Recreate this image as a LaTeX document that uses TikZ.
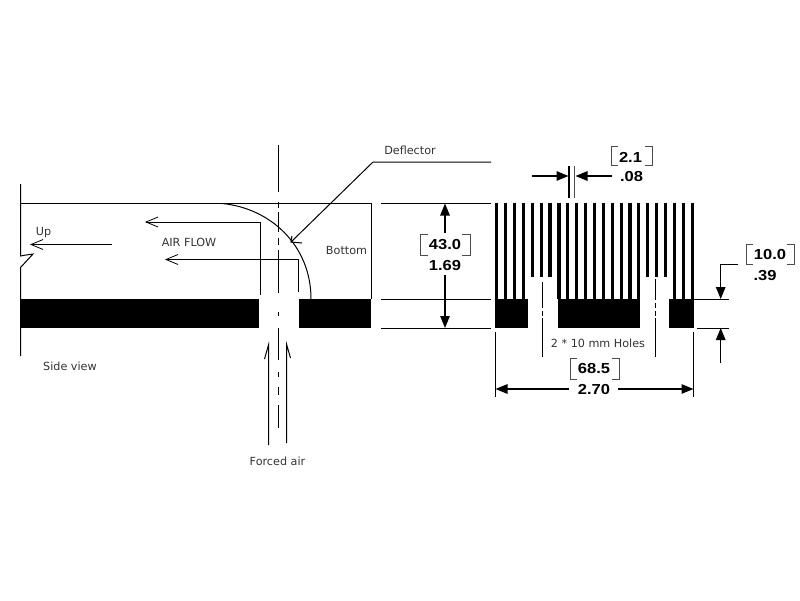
\documentclass[tikz,border=0pt]{standalone}
\usepackage{fontspec}
\setmainfont{DejaVu Sans}
\newfontfamily\dimfont[FakeStretch=1.14]{Liberation Sans}
\usetikzlibrary{arrows.meta}
\tikzset{
  x=1pt,y=-1pt,
  ln/.style={line width=1pt,black},
  openarrow/.style={ln,-{Straight Barb[length=12pt,width=10pt,line width=.8pt]}},
  dimarrow/.style={line width=1.3pt,black,-{Triangle[length=12pt,width=9.5pt]}},
  lbl/.style={inner sep=0pt,font=\fontsize{11.2}{13}\selectfont,text=black!80},
  dimlbl/.style={inner sep=0pt,font=\dimfont\bfseries\fontsize{14.5}{16}\selectfont},
  brk/.style={line width=1pt,black!70},
  finbar/.style={line width=3.2pt,black}
}
\begin{document}
\begin{tikzpicture}
\useasboundingbox (0,0) rectangle (800,600);
% side view frame
\coordinate (tl) at (20.5,203.5); \coordinate (tr) at (371,203.5);
\coordinate (br) at (371,299);
\draw[ln] (20.5,184) -- (20.5,256) -- (26,255) -- (33,254) -- (21,267) -- (20.5,267) -- (20.5,356);
\draw[ln] (tl) -- (tr) -- (br);
\fill[black] (20.5,299) rectangle (259,328);
\fill[black] (299,299) rectangle (371,328);
\draw[ln] (222,203.5) .. controls (270,208) and (311,245) .. (311,299);
% centre line
\foreach \a/\b in {145/192,202/208,212/232,238/245,250/293,312/316,328/360,372/377,387/395,405/428}
  \draw[ln] (278.5,\a) -- (278.5,\b);
% flow arrows
\draw[openarrow] (260,295) -- (260,222) -- (145,222);
\draw[openarrow] (298.5,292) -- (298.5,259.5) -- (165,259.5);
\draw[openarrow] (112,244.5) -- (30,244.5);
\draw[ln] (268.5,445) -- (268.5,345) -- (264.5,359);
\draw[ln] (286.5,443) -- (286.5,344) -- (290.5,358);
% deflector
\coordinate (df) at (373,162);
\coordinate (dftip) at (291,242);
\draw[ln] (491,162) -- (df) -- (dftip);
\draw[ln] (292,236) -- (dftip) -- (302,243);
% labels
\node[lbl] (deflector) at (410,150) {Deflector};
\node[lbl] (up) at (43.5,233) {Up};
\node[lbl] (airflow) at (189,242) {AIR FLOW};
\node[lbl] (bottom) at (346.5,250) {Bottom};
\node[lbl] (sideview) at (70,366) {Side view};
\node[lbl] (forced) at (277.5,461) {Forced air};
\node[lbl] (holes) at (598,343) {2 * 10 mm Holes};
% extension lines
\draw[ln] (381,203.5) -- (491,203.5);
\draw[ln] (381,299) -- (491,299);
\draw[ln] (381,328) -- (491,328);
% 43.0
\node[dimlbl] (d43) at (445,245) {43.0};
\node[dimlbl] (i169) at (445,266) {1.69};
\draw[brk] (428,234) -- (420,234) -- (420,255) -- (428,255);
\draw[brk] (462,234) -- (470,234) -- (470,255) -- (462,255);
\draw[dimarrow] (445,233) -- (445,203.5);
\draw[dimarrow] (445,275) -- (445,328);
% fins
\foreach \i in {0,...,22}{
  \pgfmathsetmacro{\fx}{496.8+\i*8.88}
  \pgfmathsetmacro{\fy}{(\i>=4 && \i<=6) || (\i>=17 && \i<=19) ? 277 : 299}
  \draw[finbar] (\fx,202.5) -- (\fx,\fy);
}
\fill[black] (495,299) rectangle (528,328);
\fill[black] (558,299) rectangle (640,328);
\fill[black] (669,299) rectangle (694,328);
% hole centre lines
\foreach \a/\b in {282/308,311/316,318/357}
  \draw[ln] (542.3,\a) -- (542.3,\b);
\foreach \a/\b in {279/300,303/308,311/316,318/357}
  \draw[ln] (655.3,\a) -- (655.3,\b);
% 2.1
\node[dimlbl] (d21) at (630.5,157) {2.1};
\node[dimlbl] (i08) at (631.5,176.5) {.08};
\draw[brk] (618,146) -- (611,146) -- (611,165) -- (618,165);
\draw[brk] (645,146) -- (652,146) -- (652,165) -- (645,165);
\draw[line width=1.3pt,black] (569,166) -- (569,198);
\draw[line width=.8pt,black!70] (574.4,166) -- (574.4,198);
\draw[dimarrow] (532,176) -- (568.5,176);
\draw[dimarrow] (612,176) -- (575.5,176);
% 10.0
\node[dimlbl] (d10) at (770,255) {10.0};
\node[dimlbl] (i39) at (765,276) {.39};
\draw[brk] (753,244) -- (746,244) -- (746,264) -- (753,264);
\draw[brk] (787,244) -- (794,244) -- (794,264) -- (787,264);
\draw[ln] (693,299) -- (729,299);
\draw[ln] (697,328) -- (729,328);
\draw[dimarrow] (738,264.5) -- (720.7,264.5) -- (720.7,299);
\draw[dimarrow] (720.7,363) -- (720.7,328);
% 68.5
\node[dimlbl] (d685) at (594,369) {68.5};
\node[dimlbl] (i270) at (594,389.5) {2.70};
\draw[brk] (577,358) -- (570,358) -- (570,379) -- (577,379);
\draw[brk] (612,358) -- (619,358) -- (619,379) -- (612,379);
\draw[ln] (495.5,332) -- (495.5,397);
\draw[ln] (693.5,332) -- (693.5,397);
\draw[dimarrow] (569,389) -- (495.5,389);
\draw[dimarrow] (618,389) -- (693.5,389);
\end{tikzpicture}
\end{document}
